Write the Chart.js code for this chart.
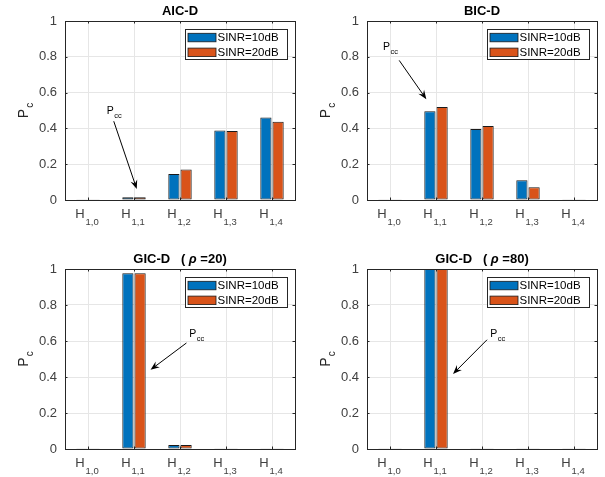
<!DOCTYPE html>
<html>
<head>
<meta charset="utf-8">
<script src="https://cdn.jsdelivr.net/npm/chart.js@4"></script>
<style>
  html, body { margin: 0; padding: 0; background: #fff; width: 605px; height: 477px; overflow: hidden; }
  canvas { position: absolute; }
</style>
</head>
<body>
<canvas id="aic" width="300" height="228" style="left:0px;top:0px"></canvas>
<canvas id="bic" width="300" height="228" style="left:302px;top:0px"></canvas>
<canvas id="gic20" width="300" height="228" style="left:0px;top:249px"></canvas>
<canvas id="gic80" width="300" height="228" style="left:302px;top:249px"></canvas>
<script>
// categories H_{1,k}
const categories = ['1,0', '1,1', '1,2', '1,3', '1,4'];
const seriesLabels = ['SINR=10dB', 'SINR=20dB'];
const seriesColors = ['#0072BD', '#D95319'];
const yTicks = [0, 0.2, 0.4, 0.6, 0.8, 1];

// values
const aic10 = [0.002, 0.015, 0.145, 0.388, 0.461];
const aic20 = [0.002, 0.015, 0.171, 0.385, 0.437];
const bic10 = [0.002, 0.496, 0.396, 0.111, 0.004];
const bic20 = [0.002, 0.520, 0.414, 0.071, 0.002];
const gic20_10 = [0.001, 0.976, 0.022, 0.001, 0.001];
const gic20_20 = [0.001, 0.976, 0.022, 0.001, 0.001];
const gic80_10 = [0.001, 1.0, 0.001, 0.001, 0.001];
const gic80_20 = [0.001, 1.0, 0.001, 0.001, 0.001];

Chart.defaults.font.family = "'Liberation Sans', Arial, Helvetica, sans-serif";

const FONT = "'Liberation Sans', Arial, Helvetica, sans-serif";

function drawArrow(ctx, x1, y1, x2, y2) {
  const ang = Math.atan2(y2 - y1, x2 - x1);
  const len = 9, half = 3.5;
  ctx.beginPath();
  ctx.moveTo(x1, y1);
  ctx.lineTo(x2 - Math.cos(ang) * 5, y2 - Math.sin(ang) * 5);
  ctx.stroke();
  const bx = x2 - Math.cos(ang) * len, by = y2 - Math.sin(ang) * len;
  const nx = -Math.sin(ang), ny = Math.cos(ang);
  const mx = x2 - Math.cos(ang) * len * 0.65, my = y2 - Math.sin(ang) * len * 0.65;
  ctx.beginPath();
  ctx.moveTo(x2, y2);
  ctx.lineTo(bx + nx * half, by + ny * half);
  ctx.lineTo(mx, my);
  ctx.lineTo(bx - nx * half, by - ny * half);
  ctx.closePath();
  ctx.fill();
}

// boxes, ticks, subscript labels, title, legend and the P_cc note
const decor = {
  id: 'decor',
  afterDraw(chart, args, opts) {
    const ctx = chart.ctx, a = chart.chartArea;
    const xs = chart.scales.x, ys = chart.scales.y;
    ctx.save();

    // tick marks inside the box
    ctx.strokeStyle = '#262626';
    ctx.lineWidth = 1;
    ctx.beginPath();
    yTicks.forEach(v => {
      const y = Math.round(ys.getPixelForValue(v)) + 0.5;
      ctx.moveTo(a.left, y); ctx.lineTo(a.left + 2.5, y);
      ctx.moveTo(a.right, y); ctx.lineTo(a.right - 2.5, y);
    });
    categories.forEach((c, i) => {
      const x = Math.round(xs.getPixelForValue(i)) + 0.5;
      ctx.moveTo(x, a.bottom); ctx.lineTo(x, a.bottom - 2.5);
      ctx.moveTo(x, a.top); ctx.lineTo(x, a.top + 2.5);
    });
    ctx.stroke();
    ctx.strokeRect(Math.round(a.left) + 0.5, Math.round(a.top) + 0.5,
      Math.round(a.right - a.left), Math.round(a.bottom - a.top));

    // x tick labels H_{1,k}
    ctx.fillStyle = '#404040';
    ctx.textBaseline = 'alphabetic';
    ctx.textAlign = 'left';
    categories.forEach((c, i) => {
      const x = xs.getPixelForValue(i);
      ctx.font = '13px ' + FONT;
      const wH = ctx.measureText('H').width;
      ctx.font = '9.5px ' + FONT;
      const wS = ctx.measureText(c).width;
      const x0 = x - (wH + wS + 1) / 2 - 1;
      ctx.font = '13px ' + FONT;
      ctx.fillText('H', x0, a.bottom + 18);
      ctx.font = '9.5px ' + FONT;
      ctx.fillText(c, x0 + wH + 1, a.bottom + 24.5);
    });

    // y label P_c
    ctx.save();
    ctx.translate(28, (a.top + a.bottom) / 2);
    ctx.rotate(-Math.PI / 2);
    ctx.fillStyle = '#262626';
    ctx.font = '14px ' + FONT;
    const wP = ctx.measureText('P').width;
    ctx.font = '10px ' + FONT;
    const wc = ctx.measureText('c').width;
    const sx = -(wP + wc + 1) / 2;
    ctx.font = '14px ' + FONT;
    ctx.fillText('P', sx, 0);
    ctx.font = '10px ' + FONT;
    ctx.fillText('c', sx + wP + 1, 5);
    ctx.restore();

    // title
    ctx.fillStyle = '#000';
    let total = 0;
    opts.title.forEach(seg => {
      ctx.font = (seg.italic ? 'italic ' : '') + 'bold 13px ' + FONT;
      seg.w = ctx.measureText(seg.text).width;
      total += seg.w;
    });
    let tx = (a.left + a.right) / 2 - total / 2;
    opts.title.forEach(seg => {
      ctx.font = (seg.italic ? 'italic ' : '') + 'bold 13px ' + FONT;
      ctx.fillText(seg.text, tx, a.top - 6.5);
      tx += seg.w;
    });

    // legend
    const lw = 102, lh = 30;
    const lx = Math.round(a.right - 8 - lw) + 0.5, ly = Math.round(a.top + 7.5) + 0.5;
    ctx.fillStyle = '#fff';
    ctx.fillRect(lx, ly, lw, lh);
    ctx.strokeStyle = '#262626';
    ctx.strokeRect(lx, ly, lw, lh);
    chart.data.datasets.forEach((ds, i) => {
      const cy = ly + 8 + i * 14.8;
      ctx.fillStyle = ds.backgroundColor;
      ctx.fillRect(lx + 2.5, cy - 4.2, 28, 8.5);
      ctx.strokeStyle = '#1a1a1a';
      ctx.lineWidth = 0.8;
      ctx.strokeRect(lx + 2.5, cy - 4.2, 28, 8.5);
      ctx.fillStyle = '#000';
      ctx.font = '11.5px ' + FONT;
      ctx.textBaseline = 'middle';
      ctx.fillText(ds.label, lx + 32, cy + 0.5);
      ctx.textBaseline = 'alphabetic';
    });

    // P_cc annotation (data coordinates)
    const n = opts.note;
    const px = v => xs.getPixelForValue(0) + v * (xs.getPixelForValue(1) - xs.getPixelForValue(0));
    ctx.fillStyle = '#000';
    ctx.strokeStyle = '#000';
    ctx.lineWidth = 1;
    ctx.font = '10.5px ' + FONT;
    const tpx = px(n.text[0]), tpy = ys.getPixelForValue(n.text[1]);
    ctx.fillText('P', tpx, tpy);
    const wPP = ctx.measureText('P').width;
    ctx.font = '7.5px ' + FONT;
    ctx.fillText('cc', tpx + wPP + 0.5, tpy + 4);
    drawArrow(ctx, px(n.tail[0]), ys.getPixelForValue(n.tail[1]),
      px(n.head[0]), ys.getPixelForValue(n.head[1]));

    ctx.restore();
  }
};

function makeChart(id, padTop, v10, v20, title, note) {
  return new Chart(document.getElementById(id), {
    type: 'bar',
    data: {
      labels: categories,
      datasets: [
        { label: seriesLabels[0], data: v10, backgroundColor: seriesColors[0] },
        { label: seriesLabels[1], data: v20, backgroundColor: seriesColors[1] }
      ].map(d => Object.assign(d, {
        borderColor: '#1a1a1a', borderWidth: 1, borderSkipped: false,
        barPercentage: 0.92, categoryPercentage: 0.53
      }))
    },
    options: {
      responsive: false,
      animation: false,
      devicePixelRatio: 1,
      layout: { padding: { top: padTop, right: 5, bottom: 28, left: 0 } },
      plugins: {
        legend: { display: false },
        title: { display: false },
        tooltip: { enabled: false },
        decor: { title: title, note: note }
      },
      scales: {
        x: {
          offset: true,
          grid: { offset: false, color: '#e6e6e6', drawTicks: false },
          border: { display: false },
          ticks: { display: false },
          afterFit(s) { s.height = 0; }
        },
        y: {
          min: 0, max: 1,
          grid: { color: '#e6e6e6', drawTicks: false },
          border: { display: false },
          ticks: {
            padding: 8, color: '#404040', font: { size: 13 },
            callback: v => String(+Number(v).toFixed(1))
          },
          afterBuildTicks(s) { s.ticks = yTicks.map(v => ({ value: v })); },
          afterFit(s) { s.width = 65; }
        }
      }
    },
    plugins: [decor]
  });
}

makeChart('aic', 21, aic10, aic20,
  [{ text: 'AIC-D' }],
  { text: [0.41, 0.483], tail: [0.56, 0.44], head: [1.06, 0.061] });
makeChart('bic', 21, bic10, bic20,
  [{ text: 'BIC-D' }],
  { text: [-0.15, 0.84], tail: [0.2, 0.78], head: [0.79, 0.563] });
makeChart('gic20', 20, gic20_10, gic20_20,
  [{ text: 'GIC-D   ( ' }, { text: 'ρ', italic: true }, { text: ' =20)' }],
  { text: [2.2, 0.62], tail: [2.14, 0.589], head: [1.36, 0.44] });
makeChart('gic80', 20, gic80_10, gic80_20,
  [{ text: 'GIC-D   ( ' }, { text: 'ρ', italic: true }, { text: ' =80)' }],
  { text: [2.18, 0.62], tail: [2.11, 0.607], head: [1.37, 0.417] });
</script>
</body>
</html>
